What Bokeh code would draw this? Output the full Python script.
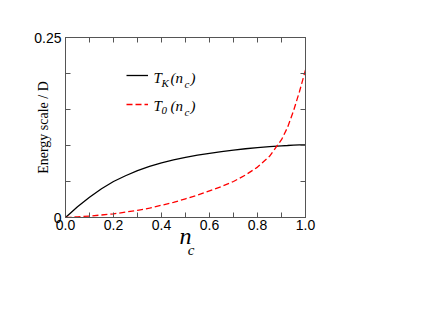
from bokeh.plotting import figure
from bokeh.models import (Range1d, LinearAxis, FixedTicker, PrintfTickFormatter,
                          CustomJSTickFormatter, Label, Legend, LegendItem)
from bokeh.embed import file_html
from bokeh.resources import INLINE

# ---- data ----
nc = [0.0, 0.02, 0.05, 0.1, 0.15, 0.2, 0.25, 0.3, 0.35, 0.4, 0.45, 0.5, 0.55,
      0.6, 0.65, 0.7, 0.75, 0.8, 0.85, 0.9, 0.925, 0.95, 0.975, 1.0]
t_kondo = [0.0, 0.006, 0.015, 0.028, 0.040, 0.050, 0.058, 0.065, 0.071, 0.076,
           0.080, 0.0835, 0.0865, 0.089, 0.0915, 0.0937, 0.0955, 0.097, 0.0985,
           0.0996, 0.1, 0.1005, 0.1008, 0.101]
t_zero = [0.0, 0.0003, 0.001, 0.002, 0.0035, 0.005, 0.0075, 0.010, 0.013, 0.017,
          0.021, 0.026, 0.031, 0.037, 0.043, 0.050, 0.059, 0.070, 0.085, 0.108,
          0.125, 0.148, 0.175, 0.205]
x_major = [0.0, 0.2, 0.4, 0.6, 0.8, 1.0]
x_minor = [0.1, 0.3, 0.5, 0.7, 0.9]
y_major = [0.0, 0.25]
y_minor = [0.05, 0.10, 0.15, 0.20]
x_title = "n"
x_title_sub = "\u00a0\u00a0\u00a0c"
y_title = "Energy scale / D"

AX = "#555555"
SANS = "Liberation Sans"
SERIF = "Liberation Serif"

p = figure(width=408, height=308, output_backend="svg", toolbar_location=None,
           x_range=Range1d(0, 1), y_range=Range1d(0, 0.25),
           x_axis_type=None, y_axis_type=None,
           min_border_left=65, min_border_right=103,
           min_border_top=37, min_border_bottom=91)
p.xgrid.visible = False
p.ygrid.visible = False
p.outline_line_color = AX
p.background_fill_color = "white"
p.border_fill_color = "white"


def style(ax, labels):
    ax.axis_line_color = AX
    ax.major_tick_line_color = AX
    ax.minor_tick_line_color = AX
    ax.major_tick_in = 5
    ax.major_tick_out = 0
    ax.minor_tick_in = 5
    ax.minor_tick_out = 0
    ax.major_label_text_font = SANS
    ax.major_label_text_font_size = "14px"
    ax.major_label_text_color = "black"
    ax.axis_label_text_font = SERIF
    ax.axis_label_text_color = "black"
    if not labels:
        ax.major_label_text_font_size = "0px"
        ax.major_label_text_alpha = 0


xt = FixedTicker(ticks=x_major, minor_ticks=x_minor)
yt = FixedTicker(ticks=y_major, minor_ticks=y_minor)

xb = LinearAxis(ticker=xt, formatter=PrintfTickFormatter(format="%.1f"))
style(xb, True)
xb.major_label_standoff = 2
xb.axis_label = x_title
xb.axis_label_text_font_size = "24px"
xb.axis_label_text_font_style = "italic"
xb.axis_label_standoff = -10
p.add_layout(xb, "below")

# second, bare axis below that only carries the subscript of the x title
xs = LinearAxis(ticker=FixedTicker(ticks=[]))
xs.axis_line_alpha = 0
xs.major_tick_line_alpha = 0
xs.minor_tick_line_alpha = 0
xs.major_label_text_font_size = "0px"
xs.axis_label = x_title_sub
xs.axis_label_text_font = SERIF
xs.axis_label_text_font_size = "15px"
xs.axis_label_text_font_style = "italic"
xs.axis_label_text_color = "black"
xs.axis_label_standoff = -10
p.add_layout(xs, "below")

xa = LinearAxis(ticker=xt)
style(xa, False)
p.add_layout(xa, "above")

yl = LinearAxis(ticker=yt, formatter=CustomJSTickFormatter(
    code="return tick == 0 ? '0' : tick.toFixed(2);"))
style(yl, True)
yl.major_label_standoff = 4
yl.axis_label = y_title
yl.axis_label_text_font_size = "14px"
yl.axis_label_text_font_style = "normal"
yl.axis_label_standoff = -20
p.add_layout(yl, "left")

yr = LinearAxis(ticker=yt)
style(yr, False)
p.add_layout(yr, "right")

rk = p.line(nc, t_kondo, line_color="black", line_width=1.3)
r0 = p.line(nc, t_zero, line_color="red", line_width=1.3, line_dash="6 3")

legend = Legend(items=[LegendItem(label=" ", renderers=[rk]),
                       LegendItem(label=" ", renderers=[r0])],
                location=(61, 103), orientation="vertical",
                glyph_width=22, glyph_height=20, label_height=20,
                label_width=1, spacing=9, padding=0, margin=0,
                border_line_alpha=0, background_fill_alpha=0,
                label_text_font_size="14px")
p.add_layout(legend, "center")


def lab(text, x, y, size):
    # x, y: pixel position on the canvas (top-left origin)
    p.add_layout(Label(x=x, y=y, x_units="canvas", y_units="canvas",
                       text=text, text_font=SERIF,
                       text_font_size=size, text_font_style="italic",
                       text_color="black", text_align="left",
                       text_baseline="alphabetic"))


# legend texts T_K(n_c), T_0(n_c)
for base, sub in ((77, "K"), (105, "0")):
    lab("T", 153, base, "15px")
    lab(sub, 161, base + 5, "11px")
    lab("(n", 170, base, "15px")
    lab("c", 184, base + 6, "11px")
    lab(")", 190, base, "15px")

open("out.html", "w").write(file_html(p, INLINE))
